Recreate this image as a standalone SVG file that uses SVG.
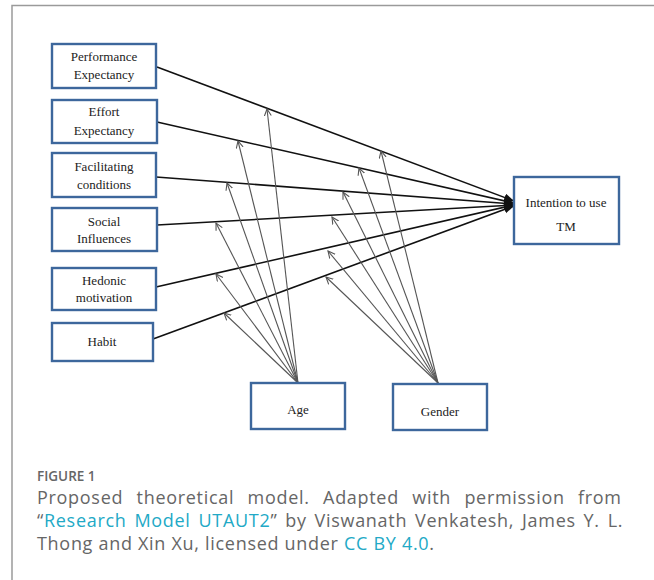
<svg xmlns="http://www.w3.org/2000/svg" width="654" height="580" viewBox="0 0 654 580">
<style>
.box{fill:#fff;stroke:#3d679c;stroke-width:2.4}
.lbl{font-family:"Liberation Serif","Times New Roman",serif;font-size:13px;fill:#222;text-anchor:middle}
.main{stroke:#111;stroke-width:1.6;fill:none;marker-end:url(#ah)}
.mod{stroke:#555;stroke-width:1.1;fill:none;marker-end:url(#oh)}
.cap{font-family:"Open Sans","Lato",sans-serif;font-size:18px;letter-spacing:0.7px;fill:#666}
.lnk{fill:#22a9c6}
</style>
<defs>
<marker id="ah" markerUnits="userSpaceOnUse" markerWidth="12" markerHeight="10" refX="10" refY="4" orient="auto">
<path d="M0,0 L10,4 L0,8 Z" fill="#111"/>
</marker>
<marker id="oh" markerUnits="userSpaceOnUse" markerWidth="10" markerHeight="10" refX="7" refY="4" orient="auto">
<path d="M0,0.5 L7,4 L0,7.5" fill="none" stroke="#555" stroke-width="1.1"/>
</marker>
</defs>
<rect width="654" height="580" fill="#fff"/>
<path d="M12,580 V5.5 H654" fill="none" stroke="#9a9a9a" stroke-width="1.5"/>

<g id="connectors">
<line class="main" x1="157" y1="67" x2="514" y2="201"/>
<line class="main" x1="157" y1="122" x2="514" y2="203"/>
<line class="main" x1="156" y1="177" x2="514" y2="204"/>
<line class="main" x1="157" y1="225" x2="514" y2="205"/>
<line class="main" x1="156" y1="287" x2="514" y2="205"/>
<line class="main" x1="153" y1="339" x2="514" y2="206"/>
<line class="mod" x1="298" y1="383" x2="267" y2="109"/>
<line class="mod" x1="298" y1="383" x2="238" y2="141"/>
<line class="mod" x1="298" y1="383" x2="227" y2="183"/>
<line class="mod" x1="298" y1="383" x2="216" y2="223"/>
<line class="mod" x1="298" y1="383" x2="216" y2="274"/>
<line class="mod" x1="298" y1="383" x2="224" y2="313"/>
<line class="mod" x1="438" y1="383" x2="381" y2="151"/>
<line class="mod" x1="438" y1="383" x2="359" y2="168"/>
<line class="mod" x1="438" y1="383" x2="343" y2="192"/>
<line class="mod" x1="438" y1="383" x2="332" y2="217"/>
<line class="mod" x1="438" y1="383" x2="328" y2="251"/>
<line class="mod" x1="438" y1="383" x2="326" y2="277"/>
</g>

<g id="pe"><rect class="box" x="52" y="44" width="104" height="44"/><text class="lbl" x="104" y="61">Performance</text><text class="lbl" x="104" y="79">Expectancy</text></g>
<g id="ee"><rect class="box" x="52" y="100" width="105" height="43"/><text class="lbl" x="104" y="116">Effort</text><text class="lbl" x="104" y="135">Expectancy</text></g>
<g id="fc"><rect class="box" x="52" y="153" width="104" height="44"/><text class="lbl" x="104" y="171">Facilitating</text><text class="lbl" x="104" y="189">conditions</text></g>
<g id="si"><rect class="box" x="52" y="208" width="105" height="43"/><text class="lbl" x="104" y="226">Social</text><text class="lbl" x="104" y="243">Influences</text></g>
<g id="hm"><rect class="box" x="52" y="268" width="104" height="42"/><text class="lbl" x="104" y="285">Hedonic</text><text class="lbl" x="104" y="302">motivation</text></g>
<g id="habit"><rect class="box" x="52" y="323" width="101" height="38"/><text class="lbl" x="102" y="346">Habit</text></g>
<g id="intention"><rect class="box" x="514" y="177" width="105" height="67"/><text class="lbl" x="566" y="207">Intention to use</text><text class="lbl" x="566" y="231">TM</text></g>
<g id="age"><rect class="box" x="251" y="383" width="94" height="46"/><text class="lbl" x="298" y="414">Age</text></g>
<g id="gender"><rect class="box" x="393" y="384" width="94" height="46"/><text class="lbl" x="440" y="416">Gender</text></g>

<g id="caption">
<text x="37" y="481" style="font-family:'Open Sans','Lato',sans-serif;font-size:13.5px;fill:#666;font-weight:600">FIGURE 1</text>
<text class="cap" x="37" y="504" word-spacing="8">Proposed theoretical model. Adapted with permission from</text>
<text class="cap" x="37" y="527" word-spacing="2.5">“<tspan class="lnk">Research Model UTAUT2</tspan>” by Viswanath Venkatesh, James Y. L.</text>
<text class="cap" x="37" y="550">Thong and Xin Xu, licensed under <tspan class="lnk">CC BY 4.0</tspan>.</text>
</g>
</svg>
